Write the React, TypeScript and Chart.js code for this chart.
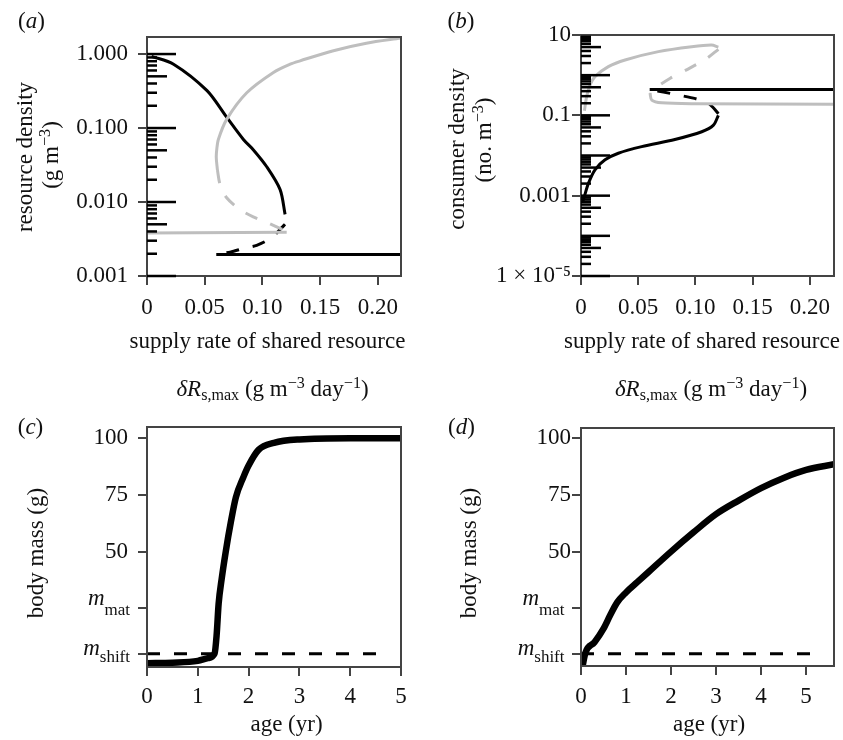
import React, { useEffect, useRef } from 'react';
import { Chart, registerables } from 'chart.js';
Chart.register(...registerables);

// ---------------- DATA ----------------
// Panel (a): resource density vs supply rate
const A_X_TICKS = [0, 0.05, 0.1, 0.15, 0.2];
const A_X_LABELS = ['0', '0.05', '0.10', '0.15', '0.20'];
const A_Y_TICKS = [0.001, 0.01, 0.1, 1];
const A_Y_LABELS = ['0.001', '0.010', '0.100', '1.000'];
const A_RUG_DECADES = [-3, -2, -1, 0];

const A_BLACK_UPPER_X = [0.004, 0.023, 0.052, 0.069, 0.0835, 0.092, 0.1037, 0.1153, 0.1196];
const A_BLACK_UPPER_Y = [0.93, 0.73, 0.32, 0.14, 0.07, 0.051, 0.03, 0.0147, 0.0068];
const A_BLACK_DASH_X = [0.1195, 0.1167, 0.108, 0.095, 0.085, 0.072, 0.06];
const A_BLACK_DASH_Y = [0.005, 0.0045, 0.0033, 0.0026, 0.0024, 0.0021, 0.00197];
const A_BLACK_LOW_X = [0.06, 0.22];
const A_BLACK_LOW_Y = [0.00195, 0.00195];
const A_GRAY_UPPER_X = [0.061, 0.06, 0.0604, 0.0618, 0.069, 0.0864, 0.1095, 0.124, 0.1326, 0.1615, 0.19, 0.22];
const A_GRAY_UPPER_Y = [0.027, 0.04, 0.051, 0.07, 0.131, 0.3, 0.565, 0.73, 0.81, 1.11, 1.4, 1.65];
const A_GRAY_DASH_X = [0.061, 0.0633, 0.069, 0.0806, 0.092, 0.1037, 0.118, 0.121];
const A_GRAY_DASH_Y = [0.027, 0.0172, 0.0114, 0.0079, 0.0063, 0.0053, 0.0042, 0.004];
const A_GRAY_LOW_X = [0, 0.121];
const A_GRAY_LOW_Y = [0.0038, 0.0039];

// Panel (b): consumer density vs supply rate
const B_X_TICKS = [0, 0.05, 0.1, 0.15, 0.2];
const B_X_LABELS = ['0', '0.05', '0.10', '0.15', '0.20'];
const B_Y_TICKS = [1e-5, 1e-3, 1e-1, 10];
const B_Y_LABELS = ['1 × 10⁻⁵', '0.001', '0.1', '10'];
const B_RUG_DECADES = [-5, -4, -3, -2, -1, 0];

const B_GRAY_UPPER_X = [0.003, 0.005, 0.0079, 0.0122, 0.0239, 0.0385, 0.0676, 0.0967, 0.114, 0.12];
const B_GRAY_UPPER_Y = [0.13, 0.3, 0.57, 0.92, 1.63, 2.39, 3.85, 5.1, 5.6, 5.0];
const B_GRAY_DASH_X = [0.12, 0.11, 0.095, 0.078, 0.066, 0.0603];
const B_GRAY_DASH_Y = [4.4, 2.63, 1.5, 0.84, 0.5, 0.36];
const B_GRAY_LOW_X = [0.0603, 0.0618, 0.0705, 0.1, 0.221];
const B_GRAY_LOW_Y = [0.36, 0.24, 0.205, 0.195, 0.19];
const B_BLACK_FLAT_X = [0.06, 0.221];
const B_BLACK_FLAT_Y = [0.44, 0.44];
const B_BLACK_DASH_X = [0.12, 0.116, 0.111, 0.1, 0.085, 0.072, 0.062];
const B_BLACK_DASH_Y = [0.11, 0.15, 0.2, 0.26, 0.32, 0.38, 0.43];
const B_BLACK_LOW_X = [0.12, 0.1157, 0.1055, 0.082, 0.053, 0.0326, 0.021, 0.0122, 0.0064, 0.0029, 0.0015];
const B_BLACK_LOW_Y = [0.1, 0.057, 0.039, 0.025, 0.0166, 0.0114, 0.0078, 0.0044, 0.002, 0.00095, 0.0007];

// Panel (c) and (d): body mass vs age
const M_SHIFT = 5;
const M_MAT = 25;
const CD_Y_TICKS = [M_SHIFT, M_MAT, 50, 75, 100];
const CD_Y_LABELS = ['', '', '50', '75', '100'];
const C_X_TICKS = [0, 1, 2, 3, 4, 5];
const C_X_LABELS = ['0', '1', '2', '3', '4', '5'];
const D_X_TICKS = [0, 1, 2, 3, 4, 5];
const D_X_LABELS = ['0', '1', '2', '3', '4', '5'];

const C_AGE = [0, 0.5, 1.0, 1.2, 1.33, 1.37, 1.41, 1.47, 1.55, 1.65, 1.75, 1.9, 2.0, 2.2, 2.5, 3.0, 4.0, 5.0];
const C_MASS = [0.8, 1.0, 1.8, 3.0, 5.0, 13, 27, 38, 50, 63, 74, 83, 88, 95, 98, 99.5, 100, 100];
const C_SHIFT_X = [0, 4.73];
const D_AGE = [0.03, 0.1, 0.3, 0.5, 0.65, 0.8, 1.0, 1.25, 1.5, 2.0, 2.5, 3.0, 3.5, 4.0, 4.5, 5.0, 5.62];
const D_MASS = [-1, 5.5, 10, 16, 22, 27.5, 32, 36.5, 41, 50, 58.5, 66.5, 72.5, 78, 82.5, 86, 88.5];
const D_SHIFT_X = [0, 5.31];

const RUG_MULTS = [1, 2, 3, 4, 5, 6, 7, 8, 9];

// ---------------- STYLE ----------------
const FONT = 'Liberation Serif';
const FS = 23;
const TXT = '#111';
const AX = '#444';
const GRAY = '#bebebe';
const DASH = [13, 14];

const pts = (xs: number[], ys: number[]) => xs.map((x, i) => ({ x, y: ys[i] }));
const line = (xs: number[], ys: number[], color: string, width: number, dash: number[] = [], tension = 0.3, mono = false) => ({
  data: pts(xs, ys),
  borderColor: color,
  backgroundColor: color,
  borderWidth: width,
  borderDash: dash,
  pointRadius: 0,
  showLine: true,
  fill: false,
  tension,
  cubicInterpolationMode: mono ? 'monotone' : 'default',
  borderCapStyle: 'butt',
  borderJoinStyle: 'round',
});

const boxPlugin = {
  id: 'box',
  afterDatasetsDraw(chart: any) {
    const { ctx, chartArea: a } = chart;
    ctx.save();
    ctx.strokeStyle = AX;
    ctx.lineWidth = 2;
    ctx.strokeRect(a.left, a.top, a.right - a.left, a.bottom - a.top);
    ctx.restore();
  },
};

const rugPlugin = {
  id: 'rug',
  afterDatasetsDraw(chart: any, _a: any, opts: any) {
    if (!opts || !opts.decades) return;
    const { ctx, chartArea: a } = chart;
    const ys = chart.scales.y;
    ctx.save();
    ctx.strokeStyle = '#000';
    ctx.lineWidth = 2.5;
    for (const d of opts.decades) {
      for (const m of RUG_MULTS) {
        const v = m * Math.pow(10, d);
        const py = ys.getPixelForValue(v);
        if (py < a.top - 0.5 || py > a.bottom + 0.5) continue;
        const len = m === 1 ? 29 : m === 5 ? 20 : 10;
        ctx.beginPath();
        ctx.moveTo(a.left, py);
        ctx.lineTo(a.left + len, py);
        ctx.stroke();
      }
    }
    ctx.restore();
  },
};

const mLabelPlugin = {
  id: 'mlabels',
  afterDraw(chart: any, _a: any, opts: any) {
    if (!opts || !opts.items) return;
    const { ctx, chartArea } = chart;
    const ys = chart.scales.y;
    const right = chartArea.left - opts.gap;
    ctx.save();
    ctx.fillStyle = TXT;
    ctx.textBaseline = 'alphabetic';
    ctx.textAlign = 'left';
    for (const it of opts.items) {
      const py = ys.getPixelForValue(it.value);
      ctx.font = `17px "${FONT}"`;
      const ws = ctx.measureText(it.sub).width;
      ctx.font = `italic 23px "${FONT}"`;
      const wm = ctx.measureText('m').width;
      const xs = right - ws;
      ctx.fillText('m', xs - wm, py + it.dm);
      ctx.font = `17px "${FONT}"`;
      ctx.fillText(it.sub, xs, py + it.ds);
    }
    ctx.restore();
  },
};

const labelFor = (ticks: number[], labels: string[]) => (v: any) => {
  const n = Number(v);
  for (let i = 0; i < ticks.length; i++) {
    if (Math.abs(ticks[i] - n) <= Math.abs(ticks[i]) * 1e-9 + 1e-12) return labels[i];
  }
  return '';
};

const tickFont = { family: FONT, size: FS };
const gridOpts = { drawOnChartArea: false, drawTicks: true, tickLength: 9, color: AX, lineWidth: 2 };

function scale(type: string, min: number, max: number, ticks: number[], labels: string[], padding: number, fit: (s: any) => void) {
  return {
    type,
    min,
    max,
    afterBuildTicks: (s: any) => {
      s.ticks = ticks.map((v) => ({ value: v }));
    },
    afterFit: fit,
    ticks: {
      callback: labelFor(ticks, labels),
      padding,
      font: tickFont,
      color: TXT,
      maxRotation: 0,
      minRotation: 0,
      autoSkip: false,
    },
    grid: gridOpts,
    border: { display: false },
  };
}

function baseConfig(datasets: any[], xs: any, ys: any, padding: any, plugOpts: any) {
  return {
    type: 'scatter',
    data: { datasets },
    options: {
      animation: false,
      responsive: false,
      maintainAspectRatio: false,
      devicePixelRatio: 1,
      layout: { padding },
      scales: { x: xs, y: ys },
      plugins: { legend: { display: false }, tooltip: { enabled: false }, ...plugOpts },
    },
    plugins: [boxPlugin, rugPlugin, mLabelPlugin],
  };
}

const configA = () =>
  baseConfig(
    [
      line(A_GRAY_LOW_X, A_GRAY_LOW_Y, GRAY, 3, [], 0),
      line(A_GRAY_UPPER_X, A_GRAY_UPPER_Y, GRAY, 3),
      line(A_GRAY_DASH_X, A_GRAY_DASH_Y, GRAY, 3, DASH),
      line(A_BLACK_UPPER_X, A_BLACK_UPPER_Y, '#000', 3),
      line(A_BLACK_DASH_X, A_BLACK_DASH_Y, '#000', 3, DASH),
      line(A_BLACK_LOW_X, A_BLACK_LOW_Y, '#000', 3, [], 0),
    ],
    scale('linear', 0, 0.22, A_X_TICKS, A_X_LABELS, 8.8, (s: any) => { s.height = 54; }),
    scale('logarithmic', 0.001, 1.7, A_Y_TICKS, A_Y_LABELS, 10, (s: any) => { s.width = 147; }),
    { top: 37, right: 19, left: 0, bottom: 0 },
    { rug: { decades: A_RUG_DECADES } }
  );

const configB = () =>
  baseConfig(
    [
      line(B_GRAY_UPPER_X, B_GRAY_UPPER_Y, GRAY, 3),
      line(B_GRAY_DASH_X, B_GRAY_DASH_Y, GRAY, 3, DASH),
      line(B_GRAY_LOW_X, B_GRAY_LOW_Y, GRAY, 3),
      line(B_BLACK_FLAT_X, B_BLACK_FLAT_Y, '#000', 3, [], 0),
      line(B_BLACK_DASH_X, B_BLACK_DASH_Y, '#000', 3, DASH),
      line(B_BLACK_LOW_X, B_BLACK_LOW_Y, '#000', 3),
    ],
    scale('linear', 0, 0.221, B_X_TICKS, B_X_LABELS, 8.8, (s: any) => { s.height = 54; }),
    scale('logarithmic', 1e-5, 10, B_Y_TICKS, B_Y_LABELS, 1, (s: any) => { s.width = 161; }),
    { top: 35, right: 9, left: 0, bottom: 0 },
    { rug: { decades: B_RUG_DECADES } }
  );

const M_ITEMS = [
  { value: M_MAT, sub: 'mat', dm: -3.3, ds: 6.7 },
  { value: M_SHIFT, sub: 'shift', dm: 1.7, ds: 8.4 },
];

const configC = () =>
  baseConfig(
    [
      line(C_SHIFT_X, [M_SHIFT, M_SHIFT], '#000', 3, DASH, 0),
      line(C_AGE, C_MASS, '#000', 6.5, [], 0, true),
    ],
    scale('linear', 0, 5, C_X_TICKS, C_X_LABELS, 7.2, (s: any) => { s.height = 73; }),
    scale('linear', -0.9, 105, CD_Y_TICKS, CD_Y_LABELS, 10, (s: any) => { s.width = 147; }),
    { top: 27, right: 19, left: 0, bottom: 0 },
    { mlabels: { items: M_ITEMS, gap: 17 } }
  );

const configD = () =>
  baseConfig(
    [
      line(D_SHIFT_X, [M_SHIFT, M_SHIFT], '#000', 3, DASH, 0),
      line(D_AGE, D_MASS, '#000', 6.5, [], 0, true),
    ],
    scale('linear', 0, 5.62, D_X_TICKS, D_X_LABELS, 8.2, (s: any) => { s.height = 74; }),
    scale('linear', -0.45, 104.5, CD_Y_TICKS, CD_Y_LABELS, 1, (s: any) => { s.width = 161; }),
    { top: 28, right: 9, left: 0, bottom: 0 },
    { mlabels: { items: M_ITEMS, gap: 16.5 } }
  );

function ChartCanvas({ left, top, width, height, make }: any) {
  const ref = useRef<HTMLCanvasElement>(null);
  useEffect(() => {
    const c = new Chart(ref.current as any, make() as any);
    return () => c.destroy();
  }, []);
  return <canvas ref={ref} width={width} height={height} style={{ position: 'absolute', left, top, width, height }} />;
}

function T({ x, y, rot, size, children }: any) {
  return (
    <div
      style={{
        position: 'absolute',
        left: x,
        top: y,
        transform: `translate(-50%,-50%)${rot ? ' rotate(-90deg)' : ''}`,
        fontFamily: FONT,
        fontSize: size || FS,
        lineHeight: 1,
        whiteSpace: 'nowrap',
        color: TXT,
      }}
    >
      {children}
    </div>
  );
}

const supS = { fontSize: '0.7em', verticalAlign: '0.45em', lineHeight: 0 } as any;
const subS = { fontSize: '0.7em', verticalAlign: '-0.3em', lineHeight: 0 } as any;

const DeltaR = () => (
  <>
    <i>δR</i>
    <sub style={subS}>s,max</sub> (g m<sup style={supS}>−3</sup> day<sup style={supS}>−1</sup>)
  </>
);

export default function App() {
  return (
    <div style={{ position: 'absolute', left: 0, top: 0, width: 843, height: 740, background: '#fff', overflow: 'hidden' }}>
      <ChartCanvas left={0} top={0} width={420} height={330} make={configA} />
      <ChartCanvas left={420} top={0} width={423} height={330} make={configB} />
      <ChartCanvas left={0} top={400} width={420} height={340} make={configC} />
      <ChartCanvas left={420} top={400} width={423} height={340} make={configD} />

      <T x={31.5} y={19.5}>(<i>a</i>)</T>
      <T x={461} y={19.5}>(<i>b</i>)</T>
      <T x={30.5} y={425.5}>(<i>c</i>)</T>
      <T x={461.5} y={425.5}>(<i>d</i>)</T>

      <T x={24} y={157} rot>resource density</T>
      <T x={50} y={155} rot>(g m<sup style={supS}>−3</sup>)</T>
      <T x={456} y={149} rot>consumer density</T>
      <T x={483} y={139.5} rot>(no. m<sup style={supS}>−3</sup>)</T>

      <T x={267.5} y={340}>supply rate of shared resource</T>
      <T x={702} y={340}>supply rate of shared resource</T>
      <T x={272.5} y={388}><DeltaR /></T>
      <T x={711} y={388}><DeltaR /></T>

      <T x={34.5} y={553} rot>body mass (g)</T>
      <T x={468} y={553} rot>body mass (g)</T>
      <T x={286.5} y={723}>age (yr)</T>
      <T x={709} y={723}>age (yr)</T>
    </div>
  );
}
